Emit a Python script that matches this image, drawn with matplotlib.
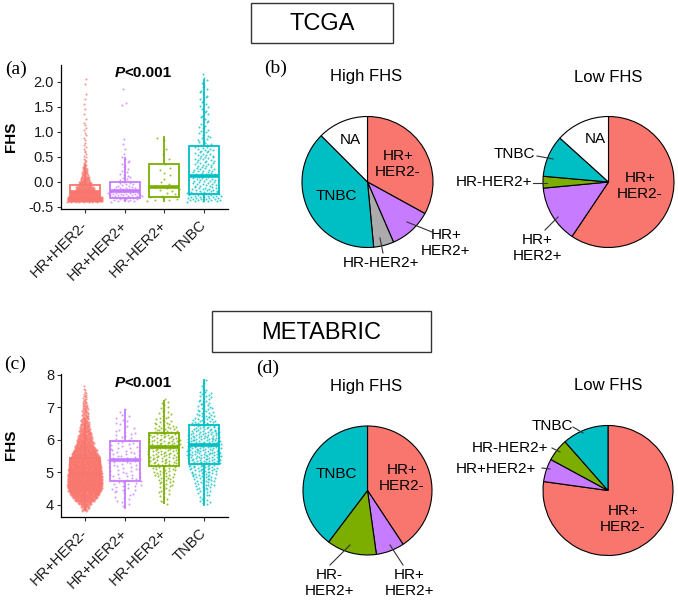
import numpy as np
import matplotlib
matplotlib.use('Agg')
import matplotlib.pyplot as plt
from matplotlib.patches import Rectangle

plt.rcParams['font.family'] = ['Liberation Sans', 'DejaVu Sans']

W, H = 678, 601

# ---------------- data ----------------
subtypes = ['HR+HER2-', 'HR+HER2+', 'HR-HER2+', 'TNBC']
colors = ['#F8766D', '#C77CFF', '#7CAE00', '#00BFC4']

# TCGA box statistics (whislo, q1, med, q3, whishi)
tcga_whislo = [-0.39, -0.38, -0.38, -0.38]
tcga_q1 = [-0.33, -0.32, -0.30, -0.24]
tcga_med = [-0.20, -0.19, -0.10, 0.12]
tcga_q3 = [-0.06, 0.00, 0.35, 0.72]
tcga_whishi = [0.33, 0.48, 0.89, 2.04]

# TCGA point density (counts per 0.1 bin)
tcga_bins = [-0.35, -0.25, -0.15, -0.05, 0.05, 0.15, 0.25, 0.35, 0.45, 0.55, 0.65,
             0.75, 0.85, 0.95, 1.05, 1.15, 1.25, 1.35, 1.45, 1.55, 1.65, 1.75,
             1.85, 1.95, 2.05, 2.15]
tcga_counts = [
    [200, 150, 80, 50, 30, 18, 12, 6, 4, 3, 3, 2, 2, 2, 2, 2, 1, 1, 1, 1, 1, 1, 0, 1, 1, 0],
    [15, 22, 14, 8, 5, 4, 3, 3, 3, 1, 1, 1, 1, 0, 0, 0, 0, 0, 0, 2, 0, 0, 1, 0, 0, 0],
    [6, 3, 5, 3, 1, 2, 2, 1, 1, 1, 1, 0, 2, 0, 0, 0, 0, 0, 0, 0, 0, 0, 0, 0, 0, 0],
    [20, 20, 14, 12, 12, 12, 11, 10, 10, 9, 9, 6, 5, 4, 4, 3, 3, 3, 3, 3, 3, 3, 3, 2, 2, 1],
]

# METABRIC box statistics
meta_whislo = [3.85, 3.91, 4.04, 4.00]
meta_q1 = [4.62, 4.72, 5.18, 5.25]
meta_med = [4.95, 5.37, 5.77, 5.84]
meta_q3 = [5.43, 5.96, 6.20, 6.45]
meta_whishi = [6.60, 6.92, 7.20, 7.85]

meta_bins = [3.85, 3.95, 4.05, 4.15, 4.25, 4.35, 4.45, 4.55, 4.65, 4.75, 4.85, 4.95,
             5.05, 5.15, 5.25, 5.35, 5.45, 5.55, 5.65, 5.75, 5.85, 5.95, 6.05, 6.15,
             6.25, 6.35, 6.45, 6.55, 6.65, 6.75, 6.85, 6.95, 7.05, 7.15, 7.25, 7.35,
             7.45, 7.55, 7.65, 7.75, 7.85]
meta_counts = [
    [10, 16, 30, 55, 75, 95, 110, 118, 120, 120, 118, 115, 112, 108, 102, 96, 90, 80, 68,
     56, 46, 40, 34, 29, 25, 21, 18, 15, 13, 11, 10, 9, 8, 6, 5, 4, 3, 2, 1, 0, 0],
    [0, 1, 2, 2, 3, 3, 4, 4, 5, 5, 5, 5, 5, 5, 5, 5, 5, 5, 5, 4, 4, 4, 3, 3, 3, 3, 2, 2,
     2, 2, 1, 1, 0, 0, 0, 0, 0, 0, 0, 0, 0],
    [0, 0, 2, 2, 2, 3, 3, 4, 4, 5, 5, 6, 7, 8, 9, 10, 10, 11, 11, 12, 11, 11, 10, 9, 8, 7,
     6, 5, 4, 3, 3, 2, 2, 2, 1, 0, 0, 0, 0, 0, 0],
    [0, 0, 3, 3, 3, 4, 5, 6, 7, 8, 9, 10, 11, 12, 13, 14, 15, 15, 15, 15, 15, 14, 14, 13,
     12, 11, 10, 9, 8, 7, 6, 5, 5, 4, 4, 4, 4, 2, 1, 1, 1],
]

# pie data (percent), order clockwise from 12 o'clock
pie_labels = ['HR+HER2-', 'HR+HER2+', 'HR-HER2+', 'TNBC', 'NA']
tcga_high = [33.0, 10.5, 5.0, 39.0, 12.5]
tcga_low = [59.4, 14.1, 2.9, 10.3, 13.3]
meta_high = [40.7, 7.1, 12.5, 39.7]
meta_low = [77.2, 5.7, 5.6, 11.5]
pie_colors = {'HR+HER2-': '#F8766D', 'HR+HER2+': '#C77CFF', 'HR-HER2+': '#7CAE00',
              'TNBC': '#00BFC4', 'NA': '#FFFFFF'}
tcga_high_colors = ['#F8766D', '#C77CFF', '#ABABAB', '#00BFC4', '#FFFFFF']

# ---------------- figure ----------------
fig = plt.figure(figsize=(W / 100, H / 100), dpi=100)


def px(x, y):
    return x / W, 1 - y / H


def draw_box_panel(rect, stats_cols, bins, counts, ylim, yticks, yticklabels, ptxt_y, binw):
    ax = fig.add_axes(rect)
    whislo, q1, med, q3, whishi = stats_cols
    stats = [dict(med=med[i], q1=q1[i], q3=q3[i], whislo=whislo[i], whishi=whishi[i], fliers=[])
             for i in range(4)]
    bp = ax.bxp(stats, positions=[1, 2, 3, 4], widths=0.75, showcaps=False, showfliers=False,
                patch_artist=True, zorder=2)
    for i in range(4):
        bp['boxes'][i].set_facecolor('white')
        bp['boxes'][i].set_edgecolor(colors[i])
        bp['boxes'][i].set_linewidth(1.3)
        bp['medians'][i].set_color(colors[i])
        bp['medians'][i].set_linewidth(2.6)
        for wk in bp['whiskers'][2 * i:2 * i + 2]:
            wk.set_color(colors[i])
            wk.set_linewidth(1.3)
    # points
    for gi, cnt in enumerate(counts):
        nmax = max(cnt)
        xs, ys = [], []
        for bi, (c, n) in enumerate(zip(bins, cnt)):
            if n == 0:
                continue
            w = max(0.44 * (n / nmax) ** 0.7, 0.03)
            for i in range(n):
                u = (i * 0.6180339887 + bi * 0.371) % 1.0
                xs.append(gi + 1 + w * (2 * u - 1))
                ys.append(c + binw * ((i + 0.5) / n - 0.5))
        ax.scatter(xs, ys, s=2.2, color=colors[gi], alpha=0.75, linewidths=0, zorder=3)
    ax.set_xlim(0.4, 4.6)
    ax.set_ylim(*ylim)
    ax.set_yticks(yticks)
    ax.set_yticklabels(yticklabels)
    ax.set_xticks([1, 2, 3, 4])
    ax.set_xticklabels(subtypes, rotation=45, ha='right', va='center', rotation_mode='anchor')
    for s in ['top', 'right']:
        ax.spines[s].set_visible(False)
    for s in ['left', 'bottom']:
        ax.spines[s].set_linewidth(0.9)
    ax.tick_params(axis='both', length=3, width=0.8, color='#333333', labelsize=10.5,
                   labelcolor='#1A1A1A', pad=2)
    ax.tick_params(axis='x', pad=7)
    t = ax.text(1.75, ptxt_y, 'P', fontsize=11, fontweight='bold', fontstyle='italic',
                ha='left', va='center')
    ax.annotate('<0.001', xy=(1, 0.5), xycoords=t, fontsize=11, fontweight='bold',
                ha='left', va='center')
    return ax


ax_a = draw_box_panel([61 / W, 1 - 209 / H, 167 / W, 144 / H],
                      (tcga_whislo, tcga_q1, tcga_med, tcga_q3, tcga_whishi),
                      tcga_bins, tcga_counts, (-0.546, 2.33),
                      [-0.5, 0.0, 0.5, 1.0, 1.5, 2.0], ['-0.5', '0.0', '0.5', '1.0', '1.5', '2.0'],
                      2.18, 0.1)
ax_c = draw_box_panel([61 / W, 1 - 517 / H, 167 / W, 143 / H],
                      (meta_whislo, meta_q1, meta_med, meta_q3, meta_whishi),
                      meta_bins, meta_counts, (3.62, 8.03),
                      [4, 5, 6, 7, 8], ['4', '5', '6', '7', '8'],
                      7.75, 0.1)

for yc in [137, 445]:
    fig.text(*px(11, yc), 'FHS', rotation=90, ha='center', va='center',
             fontsize=11, fontweight='bold')

# ---------------- pies ----------------
pax = fig.add_axes([0, 0, 1, 1], zorder=0)


def draw_pie(vals, cols, cx, cy, r):
    pax.pie(vals, colors=cols, startangle=90, counterclock=False, center=(cx, H - cy),
            radius=r, wedgeprops=dict(edgecolor='black', linewidth=0.8))


draw_pie(tcga_high, tcga_high_colors, 367.5, 182, 65.5)
draw_pie(tcga_low, [pie_colors[k] for k in pie_labels], 608.5, 182, 65.5)
draw_pie(meta_high, [pie_colors[k] for k in pie_labels[:4]], 367.5, 490.5, 64.5)
draw_pie(meta_low, [pie_colors[k] for k in pie_labels[:4]], 608, 490.5, 65)

pax.set_xlim(0, W)
pax.set_ylim(0, H)
pax.set_aspect('auto')
pax.axis('off')

pie_texts = [
    ('NA', 350, 140), ('HR+\nHER2-', 398, 164), ('TNBC', 336, 196),
    ('HR+\nHER2+', 446, 243), ('HR-HER2+', 381, 263),
    ('NA', 595, 139), ('HR+\nHER2-', 640, 186), ('TNBC', 514, 154),
    ('HR-HER2+', 494, 182), ('HR+\nHER2+', 537, 248),
    ('TNBC', 336, 474), ('HR+\nHER2-', 402, 478), ('HR-\nHER2+', 329, 583),
    ('HR+\nHER2+', 409, 583),
    ('TNBC', 552, 426), ('HR-HER2+', 510, 448), ('HR+HER2+', 496, 469),
    ('HR+\nHER2-', 623, 519),
]
for txt, x, y in pie_texts:
    pax.text(x, H - y, txt, ha='center', va='center', fontsize=11, linespacing=1.15)

leaders = [
    (407, 222, 432, 232), (380, 238, 383, 253),
    (537, 156, 553, 159), (533, 183, 547, 183), (545, 230, 558, 217),
    (350, 545, 330, 565), (390, 545, 403, 565),
    (573, 427, 583, 433), (552, 448, 560, 452), (542, 468, 550, 469),
]
for x1, y1, x2, y2 in leaders:
    pax.plot([x1, x2], [H - y1, H - y2], color='#333333', lw=0.8)

for x, y, t in [(366, 77, 'High FHS'), (608, 77, 'Low FHS'),
                (366, 386, 'High FHS'), (608, 386, 'Low FHS')]:
    pax.text(x, H - y, t, ha='center', va='center', fontsize=12)

# ---------------- headers & panel letters ----------------
for (x0, y0, x1, y1, label, tx, ty) in [(251, 3, 393, 43, 'TCGA', 322, 24),
                                        (212, 311, 431, 352, 'METABRIC', 321, 333)]:
    fig.patches.append(Rectangle(px(x0, y1), (x1 - x0) / W, (y1 - y0) / H,
                                 transform=fig.transFigure, fill=False,
                                 edgecolor='#333333', linewidth=1.0))
    fig.text(*px(tx, ty), label, ha='center', va='center', fontsize=17)

for label, x, y in [('(a)', 16, 69), ('(b)', 276, 68), ('(c)', 15, 364), ('(d)', 268, 368)]:
    fig.text(*px(x, y), label, ha='center', va='center', fontsize=14,
             family=['Liberation Serif', 'DejaVu Serif'])

fig.savefig('out.png', dpi=100)
